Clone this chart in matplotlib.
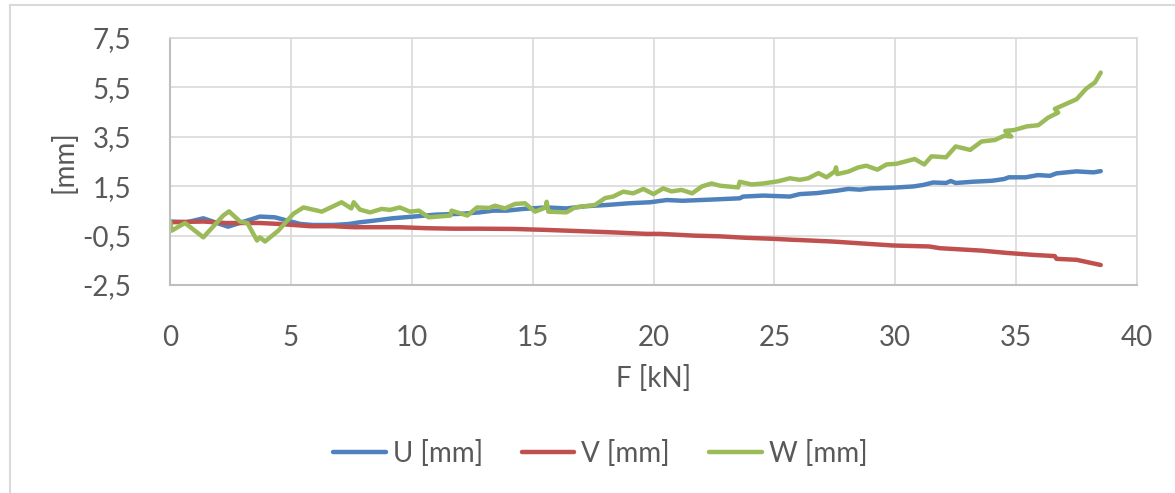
import matplotlib
matplotlib.use("Agg")
import matplotlib.pyplot as plt
from matplotlib.lines import Line2D
from matplotlib.ticker import FuncFormatter

# displacement readings against load
F_u = [0, 0.69, 1.38, 2.4, 3.17, 3.72, 4.34, 4.76, 5.4, 5.9, 6.76, 7.4, 7.86, 8.4,
       9.2, 10.07, 11.0, 12.0, 12.8, 13.37, 13.92, 14.6, 15.58, 16.4, 17.2, 18.07,
       19.0, 19.86, 20.55, 21.2, 22.2, 23.57, 23.7, 24.54, 25.64, 26.05, 26.75, 27.6,
       28.06, 28.54, 28.96, 29.92, 30.75, 31.15, 31.57, 32.1, 32.3, 32.5, 33.2, 34.0,
       34.5, 34.7, 35.4, 35.9, 36.4, 36.67, 37.5, 38.2, 38.5]
U = [0.07, 0.04, 0.2, -0.14, 0.1, 0.27, 0.24, 0.13, -0.03, -0.07, -0.07, -0.03, 0.04,
     0.1, 0.2, 0.27, 0.35, 0.38, 0.44, 0.51, 0.51, 0.58, 0.64, 0.6, 0.69, 0.74, 0.81,
     0.85, 0.94, 0.91, 0.95, 1.01, 1.08, 1.12, 1.08, 1.18, 1.22, 1.32, 1.39, 1.36,
     1.41, 1.44, 1.49, 1.55, 1.65, 1.63, 1.71, 1.63, 1.68, 1.72, 1.79, 1.86, 1.86,
     1.95, 1.92, 2.02, 2.1, 2.06, 2.11]

F_v = [0, 1.38, 2.3, 3.72, 4.55, 5.8, 6.76, 7.6, 9.5, 10.6, 11.7, 12.7, 14.2, 15.58,
       16.96, 18.33, 19.7, 20.27, 21.65, 22.75, 23.85, 24.95, 25.77, 26.06, 27.4, 28.5,
       29.9, 31.4, 31.85, 33.6, 34.6, 35.7, 36.6, 36.67, 37.5, 38.5]
V = [0.04, 0.07, 0.01, 0.01, -0.03, -0.12, -0.12, -0.16, -0.16, -0.2, -0.22, -0.22,
     -0.23, -0.27, -0.32, -0.37, -0.43, -0.43, -0.5, -0.53, -0.59, -0.63, -0.67, -0.68,
     -0.74, -0.81, -0.9, -0.94, -1.01, -1.11, -1.2, -1.28, -1.33, -1.44, -1.48, -1.69]

F_w = [0, 0.07, 0.62, 1.38, 2.2, 2.44, 2.9, 3.2, 3.6, 3.72, 3.93, 4.48, 5.1, 5.52, 6.28,
       7.1, 7.5, 7.6, 7.86, 8.28, 8.76, 9.1, 9.5, 9.93, 10.3, 10.7, 11.2, 11.6, 11.65,
       12.3, 12.7, 13.2, 13.44, 13.85, 14.27, 14.68, 15.1, 15.55, 15.58, 15.65, 16.4,
       16.75, 17.58, 18.0, 18.33, 18.75, 19.16, 19.58, 20.0, 20.4, 20.75, 21.16, 21.6,
       22.0, 22.4, 22.75, 23.5, 23.57, 24.06, 24.54, 25.16, 25.64, 26.05, 26.4, 26.82,
       27.16, 27.5, 27.55, 27.6, 28.06, 28.47, 28.8, 29.26, 29.64, 30.06, 30.8, 31.2,
       31.5, 32.1, 32.5, 33.1, 33.57, 34.12, 34.5, 34.8, 34.55, 34.9, 35.44, 35.92,
       36.33, 36.74, 36.6, 36.95, 37.5, 37.9, 38.26, 38.5]
W = [0.1, -0.3, 0.01, -0.57, 0.31, 0.48, 0.07, 0.01, -0.7, -0.57, -0.74, -0.3, 0.38,
     0.64, 0.47, 0.85, 0.6, 0.85, 0.55, 0.44, 0.58, 0.54, 0.64, 0.47, 0.51, 0.24, 0.28,
     0.31, 0.51, 0.31, 0.64, 0.62, 0.71, 0.6, 0.78, 0.81, 0.47, 0.64, 0.87, 0.47, 0.44,
     0.64, 0.74, 1.02, 1.08, 1.28, 1.21, 1.39, 1.18, 1.41, 1.29, 1.35, 1.21, 1.49,
     1.61, 1.52, 1.45, 1.68, 1.57, 1.61, 1.7, 1.82, 1.76, 1.82, 2.03, 1.86, 2.1, 2.26,
     1.99, 2.09, 2.26, 2.33, 2.17, 2.38, 2.41, 2.6, 2.38, 2.71, 2.67, 3.11, 2.97, 3.31,
     3.37, 3.54, 3.51, 3.74, 3.77, 3.92, 3.97, 4.28, 4.48, 4.63, 4.78, 5.02, 5.45, 5.7,
     6.1]

y_ticks = [-2.5, -0.5, 1.5, 3.5, 5.5, 7.5]
x_ticks = [0, 5, 10, 15, 20, 25, 30, 35, 40]

plt.rcParams['font.family'] = ['Lato', 'DejaVu Sans']
txt = '#595959'
grid = '#d9d9d9'
fs = 20

fig = plt.figure(figsize=(11.75, 4.93), dpi=100)
ax = fig.add_axes([170 / 1175, 1 - 285 / 493, (1137 - 170) / 1175, (285 - 38) / 493])

ax.plot(F_u, U, color='#4f81bd', lw=3.2, solid_capstyle='round', solid_joinstyle='round', label='U [mm]')
ax.plot(F_v, V, color='#c0504d', lw=3.2, solid_capstyle='round', solid_joinstyle='round', label='V [mm]')
ax.plot(F_w, W, color='#9bbb59', lw=3.2, solid_capstyle='round', solid_joinstyle='round', label='W [mm]')

ax.set_xlim(0, 40)
ax.set_ylim(-2.5, 7.5)
ax.set_xticks(x_ticks)
ax.set_yticks(y_ticks)
ax.yaxis.set_major_formatter(FuncFormatter(lambda v, p: ('%.1f' % v).replace('.', ',')))
ax.tick_params(length=0, labelsize=fs, colors=txt)
ax.tick_params(axis='y', pad=28)
ax.tick_params(axis='x', pad=29)
ax.grid(True, color=grid, lw=1.2)
ax.set_axisbelow(True)
for s in ['top', 'right']:
    ax.spines[s].set_color(grid)
    ax.spines[s].set_linewidth(1.2)
for s in ['left', 'bottom']:
    ax.spines[s].set_color('#bfbfbf')
    ax.spines[s].set_linewidth(1.5)

ax.set_xlabel('F [kN]', fontsize=fs, color=txt, labelpad=10)
ax.set_ylabel('[mm]', fontsize=fs, color=txt, labelpad=3)

fig.legend(loc='center', bbox_to_anchor=(600 / 1175, 1 - 453 / 493), ncol=3,
           frameon=False, fontsize=fs, labelcolor=txt, handlelength=1.9,
           handletextpad=0.25, columnspacing=1.4)

# chart area frame
fig.add_artist(Line2D([10 / 1175, 10 / 1175], [0, 1 - 5 / 493], color=grid, lw=1.5,
                      transform=fig.transFigure))
fig.add_artist(Line2D([10 / 1175, 1], [1 - 5 / 493, 1 - 5 / 493], color=grid, lw=1.5,
                      transform=fig.transFigure))

fig.savefig('out.png', dpi=100)
